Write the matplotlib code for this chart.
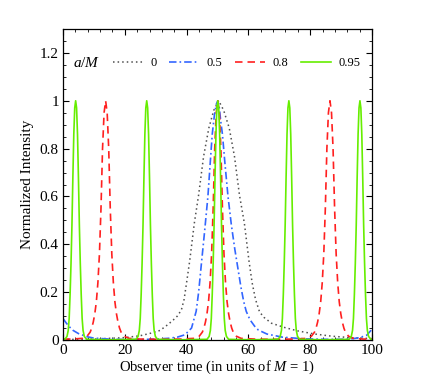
import matplotlib
matplotlib.use("Agg")
import matplotlib.pyplot as plt
from matplotlib.ticker import MultipleLocator, FuncFormatter

plt.rcParams['font.family'] = ['Liberation Serif', 'DejaVu Serif']
plt.rcParams['mathtext.fontset'] = 'custom'
plt.rcParams['mathtext.rm'] = 'Liberation Serif'
plt.rcParams['mathtext.it'] = 'Liberation Serif:italic'

# a/M = 0 (black dotted)
t_a0 = [0, 10, 20, 25, 28, 31.4, 34, 35.7, 37, 38.3, 39.2, 40.0, 41.0, 42.5, 43.9, 45.5, 47.2, 48.8,
        50.4, 52.0, 53.8, 55.5, 57.1, 58.7, 60.2, 61.2, 62.3, 63.6, 65, 67.5, 71.8, 76, 81.5, 87, 93, 100]
i_a0 = [0.002, 0.004, 0.01, 0.018, 0.027, 0.04, 0.065, 0.084, 0.1, 0.125, 0.17, 0.24, 0.33, 0.488, 0.607,
        0.767, 0.886, 0.96, 1.0, 0.96, 0.886, 0.767, 0.607, 0.488, 0.33, 0.24, 0.17, 0.118, 0.095, 0.07,
        0.052, 0.038, 0.025, 0.016, 0.01, 0.006]

# a/M = 0.5 (blue dash-dot)
t_a05 = [0, 1, 2, 3.3, 5, 7.7, 10, 15, 20, 25, 30, 34, 37, 39.5, 41.6, 43.1, 43.9, 44.8, 45.8, 46.9,
         47.7, 48.3, 49.0, 49.6, 50.1, 50.6, 51.0, 51.6, 52.4, 53.4, 54.5, 55.6, 56.6, 57.6, 58.5, 59.3,
         60.5, 62, 63.2, 66, 71, 78, 85, 90, 94, 96, 98.3, 100]
i_a05 = [0.09, 0.072, 0.056, 0.04, 0.027, 0.014, 0.008, 0.004, 0.002, 0.002, 0.004, 0.007, 0.012, 0.022,
         0.05, 0.12, 0.2, 0.32, 0.45, 0.6, 0.75, 0.86, 0.94, 0.985, 1.0, 0.97, 0.92, 0.86, 0.74, 0.6,
         0.48, 0.38, 0.3, 0.22, 0.16, 0.12, 0.085, 0.058, 0.042, 0.025, 0.012, 0.005, 0.003, 0.003,
         0.006, 0.01, 0.02, 0.045]

# a/M = 0.8 (red dashed)
t_a08 = [0, 3, 6.3, 7.8, 8.8, 9.3, 9.8, 10.3, 10.8, 11.3, 11.8, 12.3, 12.8, 13.3, 13.8, 14.3, 14.8,
         15.3, 15.8, 16.3, 16.8, 17.3, 17.8, 18.3, 18.8, 19.8, 21.3, 25, 32, 38,
         42.6, 44.1, 45.1, 45.6, 46.1, 46.6, 47.1, 47.6, 48.1, 48.6, 49.1, 49.6, 50.1, 50.6, 51.1,
         51.6, 52.1, 52.6, 53.1, 53.6, 54.1, 54.6, 55.1, 56.1, 57.6, 62, 68, 75,
         78.9, 80.4, 81.4, 81.9, 82.4, 82.9, 83.4, 83.9, 84.4, 84.9, 85.4, 85.9, 86.4, 86.9, 87.4,
         87.9, 88.4, 88.9, 89.4, 89.9, 90.4, 90.9, 91.4, 92.4, 93.9, 97, 100]
i_a08 = [0.004, 0.004, 0.007, 0.016, 0.033, 0.05, 0.075, 0.11, 0.16, 0.24, 0.36, 0.55, 0.8, 0.95, 1.0,
         0.95, 0.8, 0.55, 0.36, 0.24, 0.16, 0.11, 0.075, 0.05, 0.033, 0.016, 0.007, 0.004, 0.003, 0.004,
         0.007, 0.016, 0.033, 0.05, 0.075, 0.11, 0.16, 0.24, 0.36, 0.55, 0.8, 0.95, 1.0, 0.95, 0.8,
         0.55, 0.36, 0.24, 0.16, 0.11, 0.075, 0.05, 0.033, 0.016, 0.007, 0.004, 0.003, 0.004,
         0.007, 0.016, 0.033, 0.05, 0.075, 0.11, 0.16, 0.24, 0.36, 0.55, 0.8, 0.95, 1.0, 0.95, 0.8,
         0.55, 0.36, 0.24, 0.16, 0.11, 0.075, 0.05, 0.033, 0.016, 0.007, 0.004, 0.004]

# a/M = 0.95 (green solid)
t_a095 = [0, 0.6, 1.3, 1.7, 2.0, 2.3, 2.6, 2.9, 3.2, 3.5, 3.8, 4.1, 4.4, 4.7, 5.0, 5.3, 5.6, 5.9, 6.2,
          6.5, 6.9, 7.6, 15,
          23.6, 24.3, 24.7, 25.0, 25.3, 25.6, 25.9, 26.2, 26.5, 26.8, 27.1, 27.4, 27.7, 28.0, 28.3,
          28.6, 28.9, 29.2, 29.5, 29.9, 30.6, 38,
          46.6, 47.3, 47.7, 48.0, 48.3, 48.6, 48.9, 49.2, 49.5, 49.8, 50.1, 50.4, 50.7, 51.0, 51.3,
          51.6, 51.9, 52.2, 52.5, 52.9, 53.6, 61,
          69.6, 70.3, 70.7, 71.0, 71.3, 71.6, 71.9, 72.2, 72.5, 72.8, 73.1, 73.4, 73.7, 74.0, 74.3,
          74.6, 74.9, 75.2, 75.5, 75.9, 76.6, 84,
          92.6, 93.3, 93.7, 94.0, 94.3, 94.6, 94.9, 95.2, 95.5, 95.8, 96.1, 96.4, 96.7, 97.0, 97.3,
          97.6, 97.9, 98.2, 98.5, 98.9, 99.6, 100]
i_a095 = [0.002, 0.003, 0.015, 0.04, 0.09, 0.19, 0.32, 0.48, 0.68, 0.86, 0.97, 1.0, 0.97, 0.86, 0.68,
          0.48, 0.32, 0.19, 0.09, 0.04, 0.015, 0.003, 0.001,
          0.003, 0.015, 0.04, 0.09, 0.19, 0.32, 0.48, 0.68, 0.86, 0.97, 1.0, 0.97, 0.86, 0.68, 0.48,
          0.32, 0.19, 0.09, 0.04, 0.015, 0.003, 0.001,
          0.003, 0.015, 0.04, 0.09, 0.19, 0.32, 0.48, 0.68, 0.86, 0.97, 1.0, 0.97, 0.86, 0.68, 0.48,
          0.32, 0.19, 0.09, 0.04, 0.015, 0.003, 0.001,
          0.003, 0.015, 0.04, 0.09, 0.19, 0.32, 0.48, 0.68, 0.86, 0.97, 1.0, 0.97, 0.86, 0.68, 0.48,
          0.32, 0.19, 0.09, 0.04, 0.015, 0.003, 0.001,
          0.003, 0.015, 0.04, 0.09, 0.19, 0.32, 0.48, 0.68, 0.86, 0.97, 1.0, 0.97, 0.86, 0.68, 0.48,
          0.32, 0.19, 0.09, 0.04, 0.015, 0.003, 0.002]

spin_labels = ["0", "0.5", "0.8", "0.95"]

fig = plt.figure(figsize=(4.21, 3.82), dpi=100)
ax = fig.add_axes([0.1496, 0.1099, 0.734, 0.8142])

ax.plot(t_a0, i_a0, color="#505050", lw=1.1, dashes=(1, 2), label=spin_labels[0])
ax.plot(t_a05, i_a05, color="#3366ff", lw=1.2, dashes=(4.5, 1.8, 1, 1.8), label=spin_labels[1])
ax.plot(t_a08, i_a08, color="#ff2020", lw=1.2, dashes=(4.5, 3), label=spin_labels[2])
ax.plot(t_a095, i_a095, color="#66ee00", lw=1.2, label=spin_labels[3])

ax.set_xlim(0, 100)
ax.set_ylim(0, 1.3)

ax.xaxis.set_major_locator(MultipleLocator(20))
ax.xaxis.set_minor_locator(MultipleLocator(4))
ax.yaxis.set_major_locator(MultipleLocator(0.2))
ax.yaxis.set_minor_locator(MultipleLocator(0.05))
ax.yaxis.set_major_formatter(FuncFormatter(lambda v, p: f"{v:.1f}".rstrip("0").rstrip(".") if v < 1.25 else ""))
ax.tick_params(which="both", direction="in", top=True, right=True, labelsize=11, pad=3)
ax.tick_params(which="major", length=4, width=0.8)
ax.tick_params(which="minor", length=2, width=0.6)
for s in ax.spines.values():
    s.set_linewidth(0.9)

ax.set_xlabel("Observer time (in units of $M$ = 1)", fontsize=10.5, labelpad=1)
ax.set_ylabel("Normalized Intensity", fontsize=11, labelpad=4)

ax.text(0.032, 0.891, "$a/M$", transform=ax.transAxes, fontsize=11, va="center", ha="left")
ax.legend(loc="center left", bbox_to_anchor=(0.162, 0.891), ncol=4, frameon=False, fontsize=9,
          handlelength=2.4, handletextpad=0.6, columnspacing=1.0, borderpad=0, borderaxespad=0)

fig.savefig("out.png", dpi=100)
